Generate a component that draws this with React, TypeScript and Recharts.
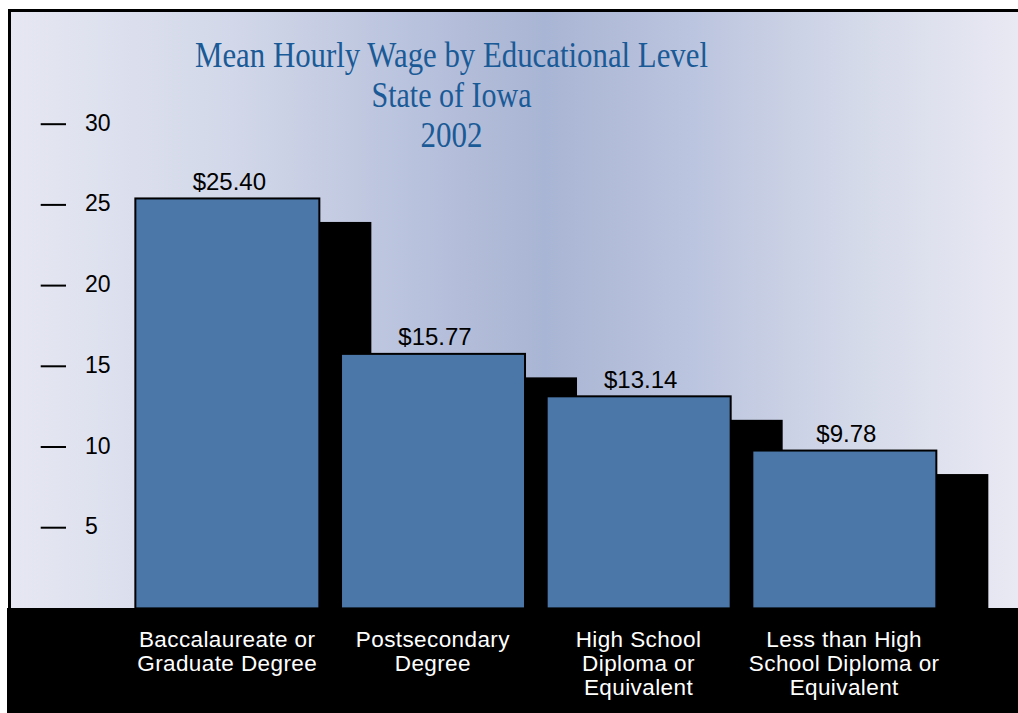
import { Bar, BarChart, LabelList, XAxis, YAxis } from "recharts"

const categories = [
	"Baccalaureate or\nGraduate Degree",
	"Postsecondary\nDegree",
	"High School\nDiploma or\nEquivalent",
	"Less than High\nSchool Diploma or\nEquivalent",
]
const wages = [25.4, 15.77, 13.14, 9.78]
const yTicks = [5, 10, 15, 20, 25, 30]
const titleLines = ["Mean Hourly Wage by Educational Level", "State of Iowa", "2002"]

const data = categories.map((name, i) => ({ name, wage: wages[i] }))

const sans = "'Liberation Sans', Arial, Helvetica, sans-serif"
const barBlue = "#4a76a8"

function ShadowBar(props: any) {
	const { x, y, width, height } = props
	if (!height) return null
	return (
		<g>
			<rect x={x + 52} y={y + 23.5} width={width} height={height - 23.5} fill="#000" />
			<rect x={x} y={y} width={width} height={height} fill={barBlue} stroke="#000" strokeWidth={2} />
		</g>
	)
}

function YTick(props: any) {
	const { y, payload } = props
	return (
		<g>
			<line x1={40.7} x2={66} y1={y} y2={y} stroke="#000" strokeWidth={2} />
			<text x={85} y={y + 6.5} fontFamily={sans} fontSize={23} fill="#000">
				{payload.value}
			</text>
		</g>
	)
}

function XTick(props: any) {
	const { x, y, payload } = props
	const lines = String(payload.value).split("\n")
	return (
		<g>
			{lines.map((l, i) => (
				<text
					key={i}
					x={x}
					y={y + 38.5 + i * 24}
					textAnchor="middle"
					fontFamily={sans}
					fontSize={22.5}
					letterSpacing={0.4}
					fill="#fff"
				>
					{l}
				</text>
			))}
		</g>
	)
}

function ValueLabel(props: any) {
	const { x, y, width, value } = props
	return (
		<text x={x + width / 2 + 2} y={y - 8.7} textAnchor="middle" fontFamily={sans} fontSize={24} fill="#000">
			${Number(value).toFixed(2)}
		</text>
	)
}

export default function App() {
	return (
		<div style={{ position: "absolute", left: 0, top: 0, width: 1018, height: 713, overflow: "hidden" }}>
			<div
				style={{
					position: "absolute",
					left: 8,
					top: 9,
					right: 0,
					bottom: 0,
					borderTop: "3px solid #000",
					borderLeft: "3px solid #000",
					background:
						"linear-gradient(to right, #e6e7f2 0%, #d2d8e9 22%, #b9c2dd 40%, #a9b5d4 53%, #bcc5df 68%, #d6dbea 85%, #e9e9f3 100%)",
				}}
			/>
			<div style={{ position: "absolute", left: 7, top: 608, right: 0, bottom: 0, background: "#000" }} />
			<svg width={1018} height={170} style={{ position: "absolute", left: 0, top: 0 }}>
				{titleLines.map((t, i) => (
					<text
						key={i}
						x={451.5}
						y={[67.3, 107.3, 146.7][i]}
						textAnchor="middle"
						fontFamily="'Liberation Serif', 'Times New Roman', serif"
						fontSize={35}
						fill="#1a5a96"
						textLength={[513, 160, 62][i]}
						lengthAdjust="spacingAndGlyphs"
					>
						{t}
					</text>
				))}
			</svg>
			<div style={{ position: "absolute", left: 0, top: 0 }}>
				<BarChart
					width={1018}
					height={713}
					data={data}
					margin={{ top: 124.2, right: 71, bottom: 14.6, left: 0 }}
					barSize={184}
				>
					<XAxis
						dataKey="name"
						height={90}
						axisLine={false}
						tickLine={false}
						tickSize={0}
						tickMargin={0}
						interval={0}
						tick={<XTick />}
					/>
					<YAxis
						width={124.35}
						domain={[0, 30]}
						ticks={yTicks}
						axisLine={false}
						tickLine={false}
						tick={<YTick />}
					/>
					<Bar dataKey="wage" shape={<ShadowBar />} isAnimationActive={false}>
						<LabelList dataKey="wage" content={<ValueLabel />} />
					</Bar>
				</BarChart>
			</div>
		</div>
	)
}
